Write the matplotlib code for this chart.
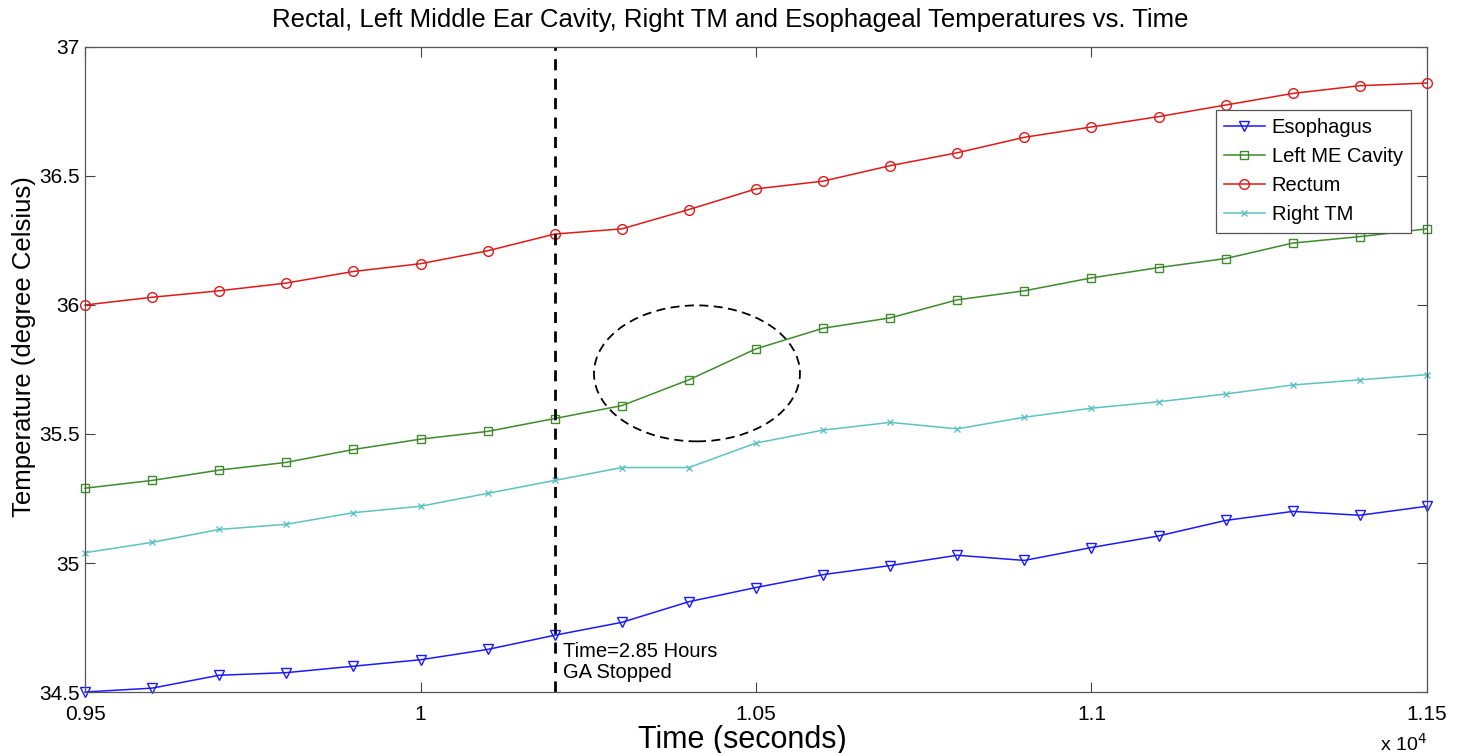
import matplotlib

matplotlib.use("Agg")
import matplotlib.pyplot as plt
from matplotlib.patches import Ellipse

plt.rcParams["font.family"] = ["Liberation Sans", "DejaVu Sans"]

time_s = [9500, 9600, 9700, 9800, 9900, 10000, 10100, 10200, 10300, 10400, 10500,
          10600, 10700, 10800, 10900, 11000, 11100, 11200, 11300, 11400, 11500]

esophagus = [34.50, 34.515, 34.565, 34.575, 34.60, 34.625, 34.665, 34.72, 34.77, 34.85, 34.905,
             34.955, 34.99, 35.03, 35.01, 35.06, 35.105, 35.165, 35.20, 35.185, 35.22]
left_me = [35.29, 35.32, 35.36, 35.39, 35.44, 35.48, 35.51, 35.56, 35.61, 35.71, 35.83,
           35.91, 35.95, 36.02, 36.055, 36.105, 36.145, 36.18, 36.24, 36.265, 36.295]
rectum = [36.00, 36.03, 36.055, 36.085, 36.13, 36.16, 36.21, 36.275, 36.295, 36.37, 36.45,
          36.48, 36.54, 36.59, 36.65, 36.69, 36.73, 36.775, 36.82, 36.85, 36.86]
right_tm = [35.04, 35.08, 35.13, 35.15, 35.195, 35.22, 35.27, 35.32, 35.37, 35.37, 35.465,
            35.515, 35.545, 35.52, 35.565, 35.60, 35.625, 35.655, 35.69, 35.71, 35.73]

x_ticks = [9500, 10000, 10500, 11000, 11500]
x_tick_labels = ["0.95", "1", "1.05", "1.1", "1.15"]
y_ticks = [34.5, 35, 35.5, 36, 36.5, 37]
y_tick_labels = ["34.5", "35", "35.5", "36", "36.5", "37"]

ga_stop_time = 10200

fig = plt.figure(figsize=(14.61, 7.53), dpi=100)
ax = fig.add_axes([0.0582, 0.081, 0.9185, 0.8566])

ax.plot(time_s, esophagus, color="#1a1aff", lw=1.1, marker="v", ms=7, mfc="none",
        mew=1.0, label="Esophagus", clip_on=False)
ax.plot(time_s, left_me, color="#3f8a2c", lw=1.1, marker="s", ms=6, mfc="none",
        mew=1.0, label="Left ME Cavity", clip_on=False)
ax.plot(time_s, rectum, color="#e01818", lw=1.1, marker="o", ms=7, mfc="none",
        mew=1.0, label="Rectum", clip_on=False)
ax.plot(time_s, right_tm, color="#5cc2c2", lw=1.1, marker="x", ms=5, mew=1.0,
        label="Right TM", clip_on=False)

ax.axvline(ga_stop_time, color="black", ls=(0, (4, 3)), lw=2)
ax.text(ga_stop_time + 12, 34.695, "Time=2.85 Hours\nGA Stopped", fontsize=14.5,
        va="top", ha="left", linespacing=1.15)
ax.add_patch(Ellipse((10412, 35.735), 307, 0.527, fill=False, ec="black",
                     ls=(0, (5, 3)), lw=1.3))

ax.set_xlim(9500, 11500)
ax.set_ylim(34.5, 37)
ax.set_xticks(x_ticks)
ax.set_xticklabels(x_tick_labels)
ax.set_yticks(y_ticks)
ax.set_yticklabels(y_tick_labels)
ax.tick_params(direction="in", top=True, right=True, labelsize=15, length=7,
               width=0.8, colors="#444444", labelcolor="black")
ax.tick_params(axis="x", pad=9)
ax.tick_params(axis="y", pad=4)
for spine in ax.spines.values():
    spine.set_color("#555555")
    spine.set_linewidth(0.9)

fig.text(0.4997, 0.973, "Rectal, Left Middle Ear Cavity, Right TM and Esophageal Temperatures vs. Time",
         fontsize=18.5, ha="center", va="center")
ax.set_xlabel("Time (seconds)", fontsize=22)
ax.xaxis.set_label_coords(0.4896, -0.051)
ax.set_ylabel("Temperature (degree Celsius)", fontsize=18.5)
ax.yaxis.set_label_coords(-0.0365, 0.535)
ax.text(1.0, -0.0806, r"x 10$^4$", transform=ax.transAxes, ha="right", va="center",
        fontsize=14)

leg = ax.legend(loc="upper right", bbox_to_anchor=(0.988, 0.902), borderaxespad=0,
                fontsize=14.5, fancybox=False, framealpha=1, edgecolor="#555555",
                handlelength=2.0, handletextpad=0.35, borderpad=0.4, labelspacing=0.5)
leg.get_frame().set_linewidth(0.9)

fig.savefig("out.png", dpi=100)
